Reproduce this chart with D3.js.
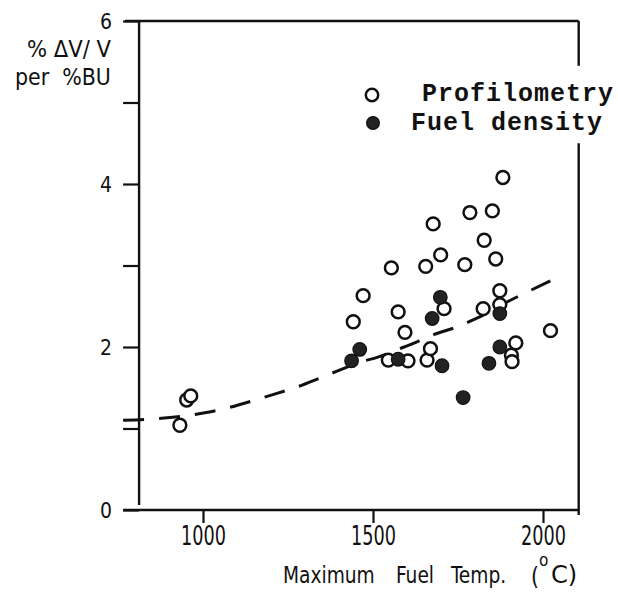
<!DOCTYPE html>
<html><head><meta charset="utf-8">
<script src="https://cdn.jsdelivr.net/npm/d3@7"></script>
<style>
body{margin:0;background:#fff;}
svg{display:block;}
.sans{font-family:"DejaVu Sans Condensed","DejaVu Sans",sans-serif;font-stretch:condensed;}
.mono{font-family:"Liberation Mono","DejaVu Sans Mono",monospace;font-weight:bold;}
</style>
</head><body>
<svg id="chart" width="618" height="605"></svg>
<script>
// ---- data ----
const profTemp = [932, 952, 964, 1442, 1471, 1545, 1554, 1574, 1594, 1603, 1655, 1659, 1669, 1677, 1699, 1709, 1770, 1785, 1824, 1827, 1851, 1861, 1873, 1873, 1882, 1907, 1909, 1920, 2022];
const profVal  = [1.04, 1.35, 1.40, 2.31, 2.63, 1.84, 2.97, 2.43, 2.18, 1.83, 2.99, 1.84, 1.98, 3.51, 3.13, 2.47, 3.01, 3.65, 2.47, 3.31, 3.67, 3.08, 2.69, 2.52, 4.08, 1.90, 1.82, 2.05, 2.20];
const densTemp = [1437, 1461, 1574, 1674, 1698, 1703, 1765, 1841, 1873, 1873];
const densVal  = [1.83, 1.97, 1.85, 2.35, 2.61, 1.77, 1.38, 1.80, 2.41, 2.00];
const fitTemp = [765, 864, 1001, 1070, 1177, 1290, 1380, 1466, 1510, 1579, 1633, 1677, 1736, 1804, 1907, 1956, 2047];
const fitVal  = [1.10, 1.12, 1.19, 1.25, 1.38, 1.53, 1.68, 1.82, 1.87, 1.98, 2.07, 2.15, 2.23, 2.35, 2.58, 2.68, 2.86];
const xTicks = [1000, 1500, 2000];
const yTicks = [0, 1, 2, 3, 4, 5, 6];
const yTickLabels = ["0", "", "2", "", "4", "", "6"];
const legendLabels = ["Profilometry", "Fuel density"];
const yTitle = ["% \u0394V/ V", "per  %BU"];
const xTitleWords = ["Maximum", "Fuel", "Temp.", "(", "o", "C)"];

// ---- scales ----
const x = d3.scaleLinear().domain([1000, 2000]).range([203, 543]);
const y = d3.scaleLinear().domain([0, 6]).range([510, 21]);
const tAxis = 812, tRight = 2105, tBottomStart = 765, tTopStart = 771;

const svg = d3.select("#chart");
const ink = "#111";

// squeeze a text horizontally around its anchor x
function scaleX(node, s) {
  const ax = +node.getAttribute("x") || 0;
  node.setAttribute("transform", `translate(${ax},0) scale(${s},1) translate(${-ax},0)`);
}
function fitWidth(node, target) {
  const w = node.getComputedTextLength();
  if (!w || !target) return;
  scaleX(node, target / w);
}

// frame: top & right border
svg.append("line").attr("x1", x(tTopStart)).attr("x2", x(tRight)).attr("y1", y(6)).attr("y2", y(6))
  .attr("stroke", ink).attr("stroke-width", 2.4);
svg.append("line").attr("x1", x(tRight)).attr("x2", x(tRight)).attr("y1", y(6)).attr("y2", y(5.45))
  .attr("stroke", ink).attr("stroke-width", 2.4);
svg.append("line").attr("x1", x(tRight)).attr("x2", x(tRight)).attr("y1", y(4.5)).attr("y2", y(-0.06))
  .attr("stroke", ink).attr("stroke-width", 2.4);
// bottom line
svg.append("line").attr("x1", x(tBottomStart)).attr("x2", x(tRight)).attr("y1", y(0)).attr("y2", y(0))
  .attr("stroke", ink).attr("stroke-width", 2.4);

// y axis
const yAxis = svg.append("g").attr("transform", `translate(${x(tAxis)},0)`)
  .call(d3.axisLeft(y).tickValues(yTicks).tickSize(16).tickSizeOuter(0).tickFormat((d, i) => yTickLabels[i]));
yAxis.select(".domain").attr("stroke", ink).attr("stroke-width", 2.4).attr("d", `M0,${y(6)}V${y(0.06)}`);
yAxis.selectAll(".tick line").attr("stroke", ink).attr("stroke-width", 2.2);
yAxis.selectAll(".tick text").attr("class", "sans").attr("font-size", 22).attr("fill", ink)
  .attr("x", -27).attr("dy", "0.36em").attr("text-anchor", "end")
  .each(function(d, i) { if (yTickLabels[i]) fitWidth(this, 12); });

// x axis
const xAxis = svg.append("g").attr("transform", `translate(0,${y(0)})`)
  .call(d3.axisBottom(x).tickValues(xTicks).tickSize(13).tickSizeOuter(0).tickFormat(d3.format("d")));
xAxis.select(".domain").remove();
xAxis.selectAll(".tick line").attr("stroke", ink).attr("stroke-width", 2.2);
xAxis.selectAll(".tick text").attr("class", "sans").attr("font-size", 26).attr("fill", ink)
  .attr("x", 0).attr("y", 35).attr("dy", 0)
  .each(function() { fitWidth(this, 45); });

// y title
svg.append("text").attr("class", "sans").attr("x", 27).attr("y", 57)
  .attr("font-size", 23).attr("fill", ink).style("white-space", "pre").text(yTitle[0])
  .each(function() { fitWidth(this, 84); });
svg.append("text").attr("class", "sans").attr("x", 15).attr("y", 85)
  .attr("font-size", 23).attr("fill", ink).style("white-space", "pre").text(yTitle[1])
  .each(function() { fitWidth(this, 96); });

// x title (uniform horizontal squeeze, words placed where the reference has them)
const xtPos = [[283, 583, 23, 0.9], [396, 583, 23, 0.9], [451, 583, 23, 0.9], [531, 585, 25, 0.9], [539, 566, 17, 1.0], [551, 583, 24, 1.12]];
xTitleWords.forEach((w, i) => {
  const p = xtPos[i];
  svg.append("text").attr("class", "sans").attr("x", p[0]).attr("y", p[1]).attr("font-size", p[2])
    .attr("fill", ink).text(w)
    .each(function() { scaleX(this, p[3]); });
});

// dashed fit curve
const fitData = fitTemp.map((t, i) => [t, fitVal[i]]);
svg.append("path").datum(fitData)
  .attr("d", d3.line().x(d => x(d[0])).y(d => y(d[1])).curve(d3.curveMonotoneX))
  .attr("fill", "none").attr("stroke", ink).attr("stroke-width", 3).attr("stroke-dasharray", "21,15");

// points
const prof = profTemp.map((t, i) => [t, profVal[i]]);
const dens = densTemp.map((t, i) => [t, densVal[i]]);
svg.append("g").selectAll("circle").data(prof).join("circle")
  .attr("cx", d => x(d[0])).attr("cy", d => y(d[1])).attr("r", 6.4)
  .attr("fill", "#fff").attr("stroke", ink).attr("stroke-width", 2.5);
svg.append("g").selectAll("circle").data(dens).join("circle")
  .attr("cx", d => x(d[0])).attr("cy", d => y(d[1])).attr("r", 6.8)
  .attr("fill", "#222").attr("stroke", ink).attr("stroke-width", 1.2);

// legend
svg.append("circle").attr("cx", 372).attr("cy", 95).attr("r", 6.2).attr("fill", "#fff").attr("stroke", ink).attr("stroke-width", 2.5);
svg.append("circle").attr("cx", 373).attr("cy", 123).attr("r", 6.4).attr("fill", "#222").attr("stroke", ink).attr("stroke-width", 1.2);
svg.append("text").attr("class", "mono").attr("x", 422).attr("y", 101).attr("font-size", 25).attr("letter-spacing", 1)
  .attr("fill", ink).text(legendLabels[0]);
svg.append("text").attr("class", "mono").attr("x", 411).attr("y", 130).attr("font-size", 25).attr("letter-spacing", 1)
  .attr("fill", ink).text(legendLabels[1]);
</script>
</body></html>
